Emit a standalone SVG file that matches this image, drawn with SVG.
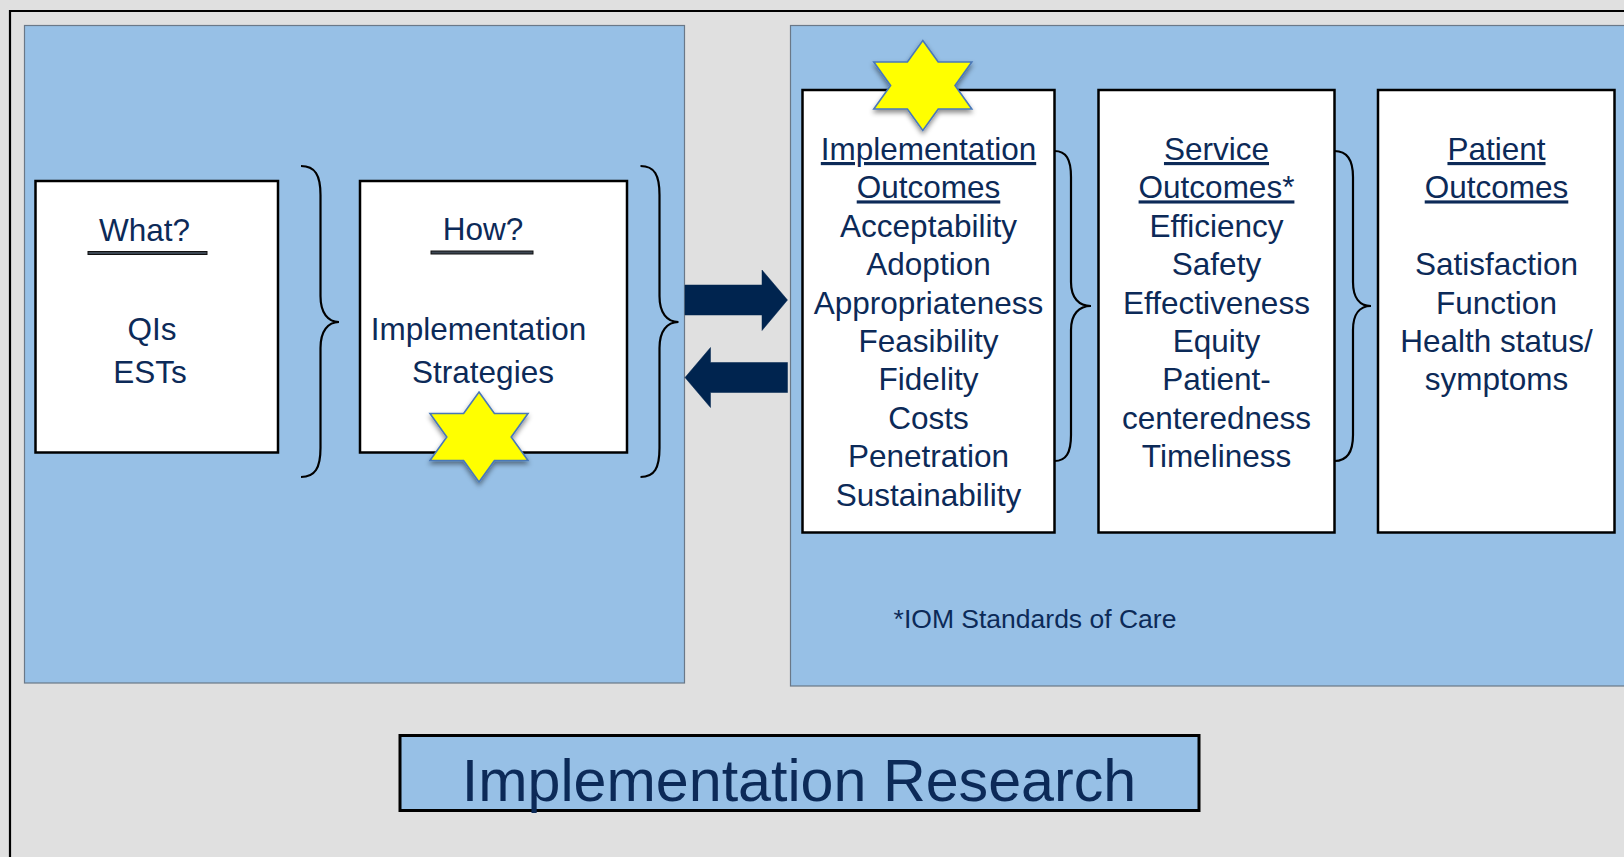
<svg xmlns="http://www.w3.org/2000/svg" width="1624" height="857" viewBox="0 0 1624 857">
<defs>
<style>
.t{font-family:"Liberation Sans",Arial,sans-serif;fill:#0c2a58;text-anchor:middle}
.b{font-size:31.5px}
.u{text-decoration:underline}
.panel{fill:#97c0e6;stroke:#6a7888;stroke-width:1.2}
.box{fill:#ffffff;stroke:#000;stroke-width:2.5}
.brace{fill:none;stroke:#000;stroke-width:2.2}
.arrow{fill:#00244f;stroke:#00244f;stroke-width:0.5}
.star{fill:#ffff00;stroke:#4a78b8;stroke-width:1.6;stroke-linejoin:miter}
.hl{fill:#3c4652;stroke:#111;stroke-width:1}
</style>
<filter id="sh" x="-30%" y="-30%" width="160%" height="170%">
<feDropShadow dx="0" dy="3" stdDeviation="2.5" flood-color="#000" flood-opacity="0.45"/>
</filter>
<polygon id="hex" points="0,-45 15.4,-23.5 49,-23.5 32.2,0 49,23.5 15.4,23.5 0,45 -15.4,23.5 -49,23.5 -32.2,0 -49,-23.5 -15.4,-23.5"/>
</defs>
<rect x="0" y="0" width="1624" height="857" fill="#e0e0e0"/>
<path d="M10,857 L10,11 L1624,11" fill="none" stroke="#000" stroke-width="2.2"/>

<g id="panel-left"><rect class="panel" x="24.5" y="25.5" width="660" height="657.5"/></g>
<g id="panel-right"><rect class="panel" x="790.5" y="25.5" width="850" height="660.5"/></g>

<g id="connectors">
<path class="brace" d="M301,166 C315,166 320.5,175 320.5,195 L320.5,296 C320.5,313 328,322 339,322 C328,322 320.5,331 320.5,348 L320.5,448 C320.5,468 315,477 301,477"/>
<path class="brace" d="M640.5,166 C654.5,166 659.5,175 659.5,195 L659.5,296 C659.5,313 667,322 678.5,322 C667,322 659.5,331 659.5,348 L659.5,448 C659.5,468 654.5,477 640.5,477"/>
<path class="brace" d="M1054.5,151 C1066,151 1071,159 1071,177 L1071,282 C1071,298 1079,306 1091,306 C1079,306 1071,314 1071,330 L1071,435 C1071,453 1066,461 1054.5,461"/>
<path class="brace" d="M1334.5,151 C1346,151 1353,159 1353,177 L1353,282 C1353,298 1360,306 1371,306 C1360,306 1353,314 1353,330 L1353,435 C1353,453 1346,461 1334.5,461"/>
<polygon class="arrow" points="685,285 762,285 762,270 787.5,300 762,330.5 762,315 685,315"/>
<polygon class="arrow" points="787.5,362.5 710.5,362.5 710.5,347.5 685,377.5 710.5,407.5 710.5,392.5 787.5,392.5"/>
</g>

<g id="node-what">
<rect class="box" x="35.5" y="181" width="242.5" height="271.5"/>
<text class="t b" x="144.5" y="241">What?</text>
<rect class="hl" x="88" y="251.5" width="119" height="3"/>
<text class="t b" x="152" y="340">QIs</text>
<text class="t b" x="150" y="383">ESTs</text>
</g>

<g id="node-how">
<rect class="box" x="360" y="181" width="267" height="271.5"/>
<text class="t b" x="483" y="240">How?</text>
<rect class="hl" x="431" y="251" width="102" height="3"/>
<text class="t b" x="478.5" y="340">Implementation</text>
<text class="t b" x="483" y="383">Strategies</text>
<use href="#hex" class="star" transform="translate(479,437)" filter="url(#sh)"/>
</g>

<g id="node-impl">
<rect class="box" x="802.5" y="90" width="252" height="442.5"/>
<text class="t b" x="928.5" y="160"><tspan class="u" x="928.5">Implementation</tspan><tspan class="u" x="928.5" dy="38.4">Outcomes</tspan><tspan x="928.5" dy="38.4">Acceptability</tspan><tspan x="928.5" dy="38.4">Adoption</tspan><tspan x="928.5" dy="38.4">Appropriateness</tspan><tspan x="928.5" dy="38.4">Feasibility</tspan><tspan x="928.5" dy="38.4">Fidelity</tspan><tspan x="928.5" dy="38.4">Costs</tspan><tspan x="928.5" dy="38.4">Penetration</tspan><tspan x="928.5" dy="38.4">Sustainability</tspan></text>
<use href="#hex" class="star" transform="translate(922.8,85.5)" filter="url(#sh)"/>
</g>

<g id="node-service">
<rect class="box" x="1098.5" y="90" width="236" height="442.5"/>
<text class="t b" x="1216.5" y="160"><tspan class="u" x="1216.5">Service</tspan><tspan class="u" x="1216.5" dy="38.4">Outcomes*</tspan><tspan x="1216.5" dy="38.4">Efficiency</tspan><tspan x="1216.5" dy="38.4">Safety</tspan><tspan x="1216.5" dy="38.4">Effectiveness</tspan><tspan x="1216.5" dy="38.4">Equity</tspan><tspan x="1216.5" dy="38.4">Patient-</tspan><tspan x="1216.5" dy="38.4">centeredness</tspan><tspan x="1216.5" dy="38.4">Timeliness</tspan></text>
</g>

<g id="node-patient">
<rect class="box" x="1378" y="90" width="236.5" height="442.5"/>
<text class="t b" x="1496.5" y="160"><tspan class="u" x="1496.5">Patient</tspan><tspan class="u" x="1496.5" dy="38.4">Outcomes</tspan><tspan x="1496.5" dy="76.8">Satisfaction</tspan><tspan x="1496.5" dy="38.4">Function</tspan><tspan x="1496.5" dy="38.4">Health status/</tspan><tspan x="1496.5" dy="38.4">symptoms</tspan></text>
</g>

<g id="note">
<text class="t" x="1035" y="628" font-size="26.5">*IOM Standards of Care</text>
</g>

<g id="title">
<rect x="400" y="735.5" width="799" height="75" fill="#97c0e6" stroke="#000" stroke-width="3"/>
<text class="t" x="799" y="801" font-size="59.2">Implementation Research</text>
</g>
</svg>
